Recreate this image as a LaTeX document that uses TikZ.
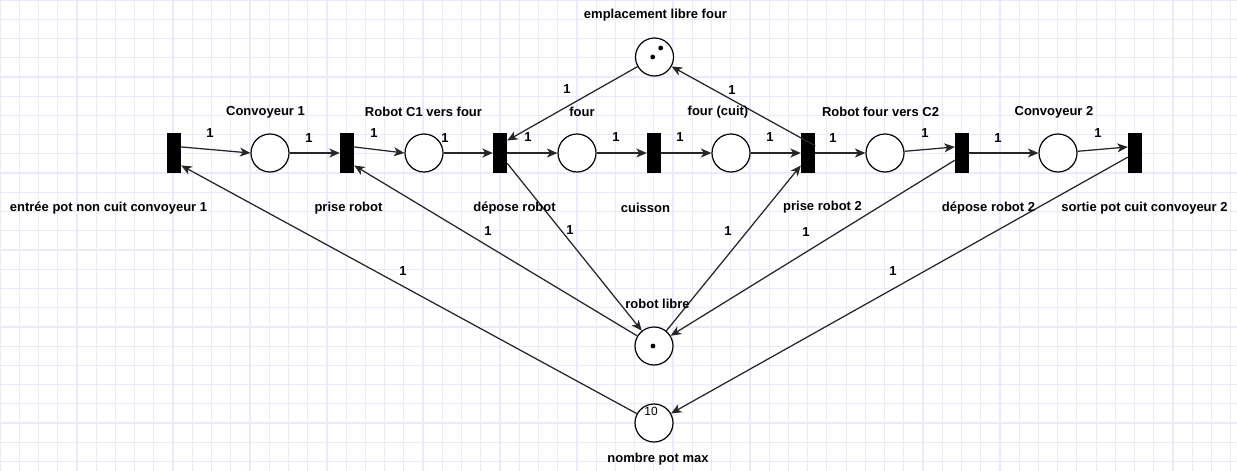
\documentclass[tikz,border=0pt]{standalone}
\usepackage{fontspec}
\setmainfont{Liberation Sans}
\usetikzlibrary{arrows.meta}
\definecolor{gridc}{RGB}{234,234,255}
\begin{document}
\begin{tikzpicture}[x=1pt,y=-1pt,
  trans/.style={fill=black,draw=none,minimum width=14pt,minimum height=40pt,inner sep=0pt},
  place/.style={circle,draw=black,line width=1.2pt,minimum size=38pt,inner sep=0pt,fill=white},
  lbl/.style={font=\fontsize{13}{15}\selectfont\bfseries,inner sep=0pt},
  wt/.style={font=\fontsize{13}{15}\selectfont\bfseries,inner sep=0pt},
  arc/.style={draw=black!85,line width=1.25pt,-{Stealth[length=10.5pt,width=9pt,inset=3pt]}},
  token/.style={circle,fill=black,draw=none,inner sep=0pt,minimum size=4.8pt}]
\useasboundingbox (0,0) rectangle (1237,471);
\fill[white] (0,0) rectangle (1237,471);
% grid
\foreach \i in {0,...,64} \draw[gridc,line width=1.2pt] (\i*19.23,0) -- (\i*19.23,471);
\foreach \j in {0,...,24} \draw[gridc,line width=1.2pt] (0,\j*19.23) -- (1237,\j*19.23);
% transitions
\node[trans] (t1) at (174,153) {};
\node[trans] (t2) at (347,153) {};
\node[trans] (t3) at (500,153) {};
\node[trans] (t4) at (654,153) {};
\node[trans] (t5) at (808,153) {};
\node[trans] (t6) at (962,153) {};
\node[trans] (t7) at (1135,153) {};
% places
\node[place] (p1) at (270,153) {};
\node[place] (p2) at (424,153) {};
\node[place] (p3) at (577,153) {};
\node[place] (p4) at (731,153) {};
\node[place] (p5) at (885,153) {};
\node[place] (p6) at (1058,153) {};
\node[place] (pe) at (654.5,57) {};
\node[place] (pr) at (654,346) {};
\node[place] (pn) at (654,423) {};
% tokens
\node[token] (k1) at (660.7,48) {};
\node[token] (k2) at (652.7,57) {};
\node[token] (k3) at (653,346) {};
\node[font=\fontsize{12}{14}\selectfont,inner sep=0pt] (k4) at (651,411.5) {10};
% arcs
\draw[arc] (t1.40) -- (p1.west);
\draw[arc] (p1) -- (t2);
\draw[arc] (t2.40) -- (p2.west);
\draw[arc] (p2) -- (t3);
\draw[arc] (t3) -- (p3);
\draw[arc] (p3) -- (t4);
\draw[arc] (t4) -- (p4);
\draw[arc] (p4) -- (t5);
\draw[arc] (t5) -- (p5);
\draw[arc] (p5) -- (t6.140);
\draw[arc] (t6) -- (p6);
\draw[arc] (p6) -- (t7.140);
\draw[arc] (pe) -- (t3.60);
\draw[arc] (t5.45) -- (pe);
\draw[arc] (t3.-55) -- (pr);
\draw[arc] (pr) -- (t2.-60);
\draw[arc] (pr) -- (t5.-120);
\draw[arc] (t6.-135) -- (pr);
\draw[arc] (pn) -- (t1.-60);
\draw[arc] (t7.-150) -- (pn);
% weights
\node[wt] (w1) at (210,133) {1};
\node[wt] (w2) at (309,138) {1};
\node[wt] (w3) at (374,133) {1};
\node[wt] (w4) at (445,138) {1};
\node[wt] (w5) at (528,137) {1};
\node[wt] (w6) at (616,137) {1};
\node[wt] (w7) at (680,137) {1};
\node[wt] (w8) at (770,137) {1};
\node[wt] (w9) at (833,138) {1};
\node[wt] (w10) at (925,133) {1};
\node[wt] (w11) at (998,138) {1};
\node[wt] (w12) at (1098,133) {1};
\node[wt] (w13) at (567,89) {1};
\node[wt] (w14) at (732,90) {1};
\node[wt] (w15) at (570,230) {1};
\node[wt] (w16) at (488,231) {1};
\node[wt] (w17) at (728,231) {1};
\node[wt] (w18) at (806,232) {1};
\node[wt] (w19) at (403,271) {1};
\node[wt] (w20) at (893,271) {1};
% labels
\node[lbl] (l1) at (265.5,112) {Convoyeur 1};
\node[lbl] (l2) at (423.5,112) {Robot C1 vers four};
\node[lbl] (l3) at (582,112) {four};
\node[lbl] (l4) at (718,112) {four (cuit)};
\node[lbl] (l5) at (880.5,112) {Robot four vers C2};
\node[lbl] (l6) at (1054,112) {Convoyeur 2};
\node[lbl] (l7) at (655.5,15) {emplacement libre four};
\node[lbl] (l8) at (108.5,208) {entrée pot non cuit convoyeur 1};
\node[lbl] (l9) at (348.5,208) {prise robot};
\node[lbl] (l10) at (514.5,208) {dépose robot};
\node[lbl] (l11) at (645.5,208) {cuisson};
\node[lbl] (l12) at (822.5,207) {prise robot 2};
\node[lbl] (l13) at (988.5,208) {dépose robot 2};
\node[lbl] (l14) at (1144.5,208) {sortie pot cuit convoyeur 2};
\node[lbl] (l15) at (657.5,304) {robot libre};
\node[lbl] (l16) at (658,459) {nombre pot max};
\end{tikzpicture}
\end{document}
